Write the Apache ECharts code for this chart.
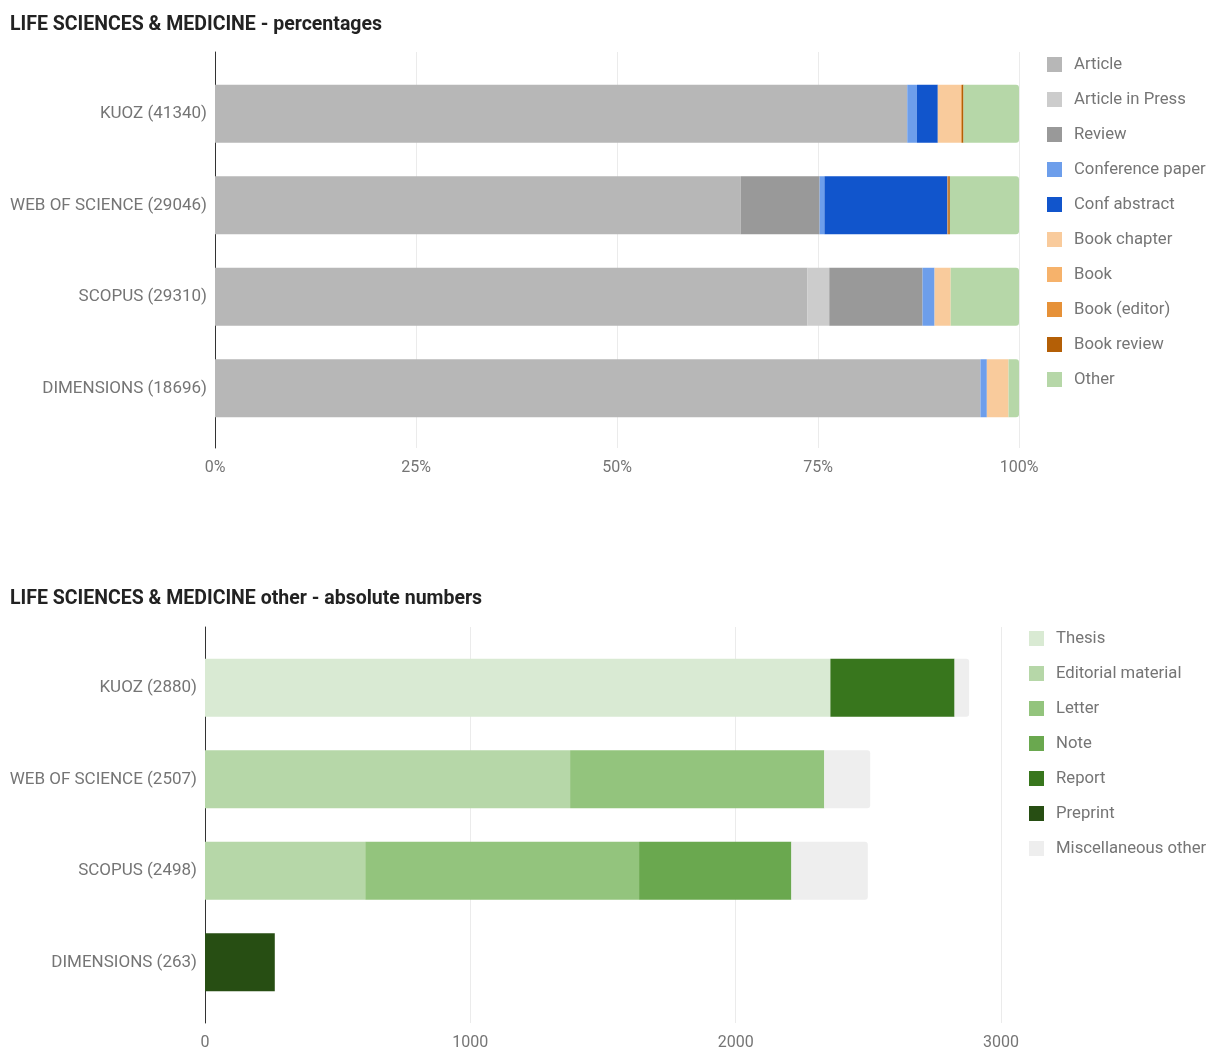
<!DOCTYPE html>
<html>
<head>
<meta charset="utf-8">
<script src="https://cdn.jsdelivr.net/npm/echarts@6/dist/echarts.min.js"></script>
<style>
html,body{margin:0;padding:0;background:#fff;}
#c{width:1209px;height:1051px;}
</style>
</head>
<body>
<div id="c"></div>
<script>
// ---------- DATA ----------
const categoriesTop = ['KUOZ (41340)', 'WEB OF SCIENCE (29046)', 'SCOPUS (29310)', 'DIMENSIONS (18696)'];
const categoriesBottom = ['KUOZ (2880)', 'WEB OF SCIENCE (2507)', 'SCOPUS (2498)', 'DIMENSIONS (263)'];

// top chart: percentages (KUOZ, WoS, Scopus, Dimensions)
const article         = [86.1, 65.4, 73.7, 95.2];
const articleInPress  = [0, 0, 2.7, 0];
const review          = [0, 9.8, 11.6, 0];
const conferencePaper = [1.2, 0.6, 1.5, 0.8];
const confAbstract    = [2.6, 15.3, 0, 0];
const bookChapter     = [2.9, 0, 2.0, 2.7];
const book            = [0, 0, 0, 0];
const bookEditor      = [0.1, 0.1, 0, 0];
const bookReview      = [0.2, 0.2, 0, 0];
const other           = [6.9, 8.6, 8.5, 1.3];

// bottom chart: absolute numbers
const thesis            = [2357, 0, 0, 0];
const editorialMaterial = [0, 1376, 604, 0];
const letter            = [0, 958, 1032, 0];
const note              = [0, 0, 574, 0];
const report            = [468, 0, 0, 0];
const preprint          = [0, 0, 0, 263];
const miscOther         = [55, 173, 288, 0];

const topTicks = [0, 25, 50, 75, 100];
const bottomTicks = [0, 1000, 2000, 3000];

// ---------- STYLE ----------
const topSeriesDef = [
  ['Article', article, '#b7b7b7'],
  ['Article in Press', articleInPress, '#cccccc'],
  ['Review', review, '#999999'],
  ['Conference paper', conferencePaper, '#6d9eeb'],
  ['Conf abstract', confAbstract, '#1155cc'],
  ['Book chapter', bookChapter, '#f9cb9c'],
  ['Book', book, '#f6b26b'],
  ['Book (editor)', bookEditor, '#e69138'],
  ['Book review', bookReview, '#b45f06'],
  ['Other', other, '#b6d7a8']
];
const bottomSeriesDef = [
  ['Thesis', thesis, '#d9ead3'],
  ['Editorial material', editorialMaterial, '#b6d7a8'],
  ['Letter', letter, '#93c47d'],
  ['Note', note, '#6aa84f'],
  ['Report', report, '#38761d'],
  ['Preprint', preprint, '#274e13'],
  ['Miscellaneous other', miscOther, '#eeeeee']
];

const FONT = 'Roboto';
const labelColor = '#757575';
const gridColor = '#ebebeb';

const series = [];
topSeriesDef.forEach((d, i) => {
  series.push({
    name: d[0], type: 'bar', stack: 'top', xAxisIndex: 0, yAxisIndex: 0,
    data: d[1], barWidth: 58, itemStyle: { color: d[2], borderRadius: i === topSeriesDef.length - 1 ? [0, 3, 3, 0] : 0 },
    emphasis: { disabled: true }, animation: false
  });
});
bottomSeriesDef.forEach((d, i) => {
  series.push({
    name: d[0], type: 'bar', stack: 'bottom', xAxisIndex: 2, yAxisIndex: 2,
    data: d[1], barWidth: 58, itemStyle: { color: d[2], borderRadius: i === bottomSeriesDef.length - 1 ? [0, 3, 3, 0] : 0 },
    emphasis: { disabled: true }, animation: false
  });
});

const legendText = { color: labelColor, fontFamily: FONT, fontSize: 16.7, padding: [0, 0, 0, 7] };

const option = {
  backgroundColor: '#ffffff',
  animation: false,
  title: [
    { text: 'LIFE SCIENCES & MEDICINE - percentages', left: 5, top: 10,
      textStyle: { fontFamily: FONT, fontWeight: 'bold', fontSize: 19.5, color: '#222222' } },
    { text: 'LIFE SCIENCES & MEDICINE other - absolute numbers', left: 5, top: 584,
      textStyle: { fontFamily: FONT, fontWeight: 'bold', fontSize: 19.5, color: '#222222' } }
  ],
  legend: [
    { orient: 'vertical', left: 1042, top: 51, itemWidth: 15, itemHeight: 15, itemGap: 18, icon: 'rect',
      data: topSeriesDef.map(d => d[0]), textStyle: legendText, selectedMode: false },
    { orient: 'vertical', left: 1024, top: 625, itemWidth: 15, itemHeight: 15, itemGap: 18, icon: 'rect',
      data: bottomSeriesDef.map(d => d[0]), textStyle: legendText, selectedMode: false }
  ],
  grid: [
    { left: 215, width: 804, top: 68, height: 366 },
    { left: 215, width: 804, top: 52, height: 396 },
    { left: 205, width: 796, top: 642, height: 366 },
    { left: 205, width: 796, top: 627, height: 396 }
  ],
  xAxis: [
    { gridIndex: 0, type: 'value', min: 0, max: 100, show: false },
    { gridIndex: 1, type: 'value', min: topTicks[0], max: topTicks[topTicks.length - 1], interval: 25,
      axisLine: { show: false }, axisTick: { show: false },
      splitLine: { show: true, lineStyle: { color: gridColor, width: 1 } },
      axisLabel: { formatter: '{value}%', color: labelColor, fontFamily: FONT, fontSize: 16, margin: 12 } },
    { gridIndex: 2, type: 'value', min: 0, max: 3000, show: false },
    { gridIndex: 3, type: 'value', min: bottomTicks[0], max: bottomTicks[bottomTicks.length - 1], interval: 1000,
      axisLine: { show: false }, axisTick: { show: false },
      splitLine: { show: true, lineStyle: { color: gridColor, width: 1 } },
      axisLabel: { formatter: v => String(v), color: labelColor, fontFamily: FONT, fontSize: 16, margin: 12 } }
  ],
  yAxis: [
    { gridIndex: 0, type: 'category', data: categoriesTop, inverse: true,
      axisLine: { show: false }, axisTick: { show: false },
      axisLabel: { color: labelColor, fontFamily: FONT, fontSize: 17, margin: 8 } },
    { gridIndex: 1, type: 'value', min: 0, max: 1,
      axisLine: { show: true, onZero: false, lineStyle: { color: '#333333', width: 1 } },
      axisTick: { show: false }, axisLabel: { show: false }, splitLine: { show: false } },
    { gridIndex: 2, type: 'category', data: categoriesBottom, inverse: true,
      axisLine: { show: false }, axisTick: { show: false },
      axisLabel: { color: labelColor, fontFamily: FONT, fontSize: 17, margin: 8 } },
    { gridIndex: 3, type: 'value', min: 0, max: 1,
      axisLine: { show: true, onZero: false, lineStyle: { color: '#333333', width: 1 } },
      axisTick: { show: false }, axisLabel: { show: false }, splitLine: { show: false } }
  ],
  series: series
};

const chart = echarts.init(document.getElementById('c'), null, { renderer: 'canvas' });
chart.setOption(option);
</script>
</body>
</html>
